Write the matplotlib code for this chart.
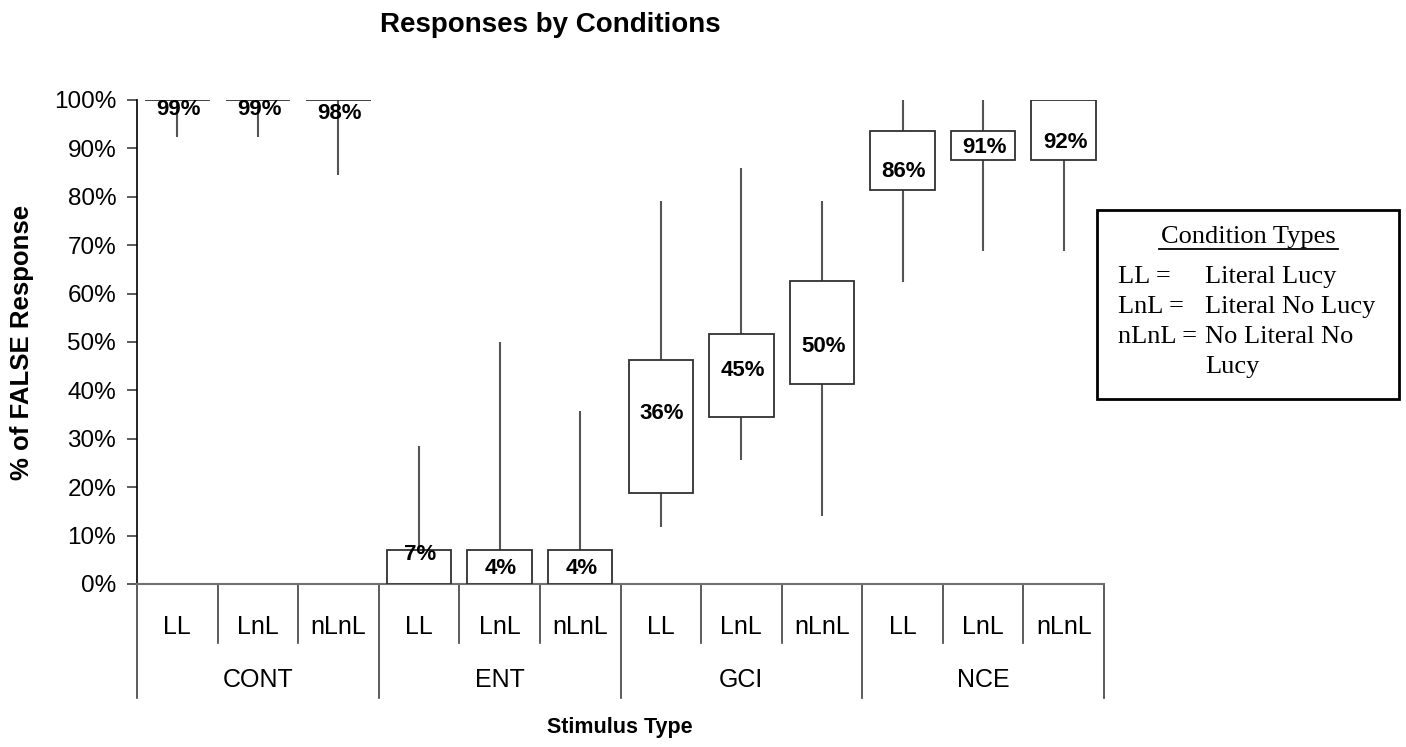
import numpy as np
import matplotlib.pyplot as plt
from matplotlib.lines import Line2D
from matplotlib.patches import Rectangle

plt.rcParams['font.family'] = ['Liberation Sans', 'DejaVu Sans']

# stimulus groups and condition types
groups = ['CONT', 'ENT', 'GCI', 'NCE']
conds = ['LL', 'LnL', 'nLnL']

# values in %
whisk_hi = [100, 100, 100, 28.5, 50.0, 35.7, 79.2, 86.0, 79.2, 100, 100, 100]
whisk_lo = [92.4, 92.4, 84.5, 0, 0, 0, 11.8, 25.6, 14.0, 62.5, 68.7, 68.7]
box_hi = [100, 100, 100, 7.0, 7.0, 7.0, 46.3, 51.7, 62.6, 93.5, 93.5, 100]
box_lo = [100, 100, 100, 0, 0, 0, 18.8, 34.6, 41.3, 81.4, 87.7, 87.7]
means = [99, 99, 98, 7, 4, 4, 36, 45, 50, 86, 91, 92]

W, H = 1406, 747
fig = plt.figure(figsize=(W / 100, H / 100), dpi=100)
ax = fig.add_axes([137 / W, 1 - 584 / H, (1104 - 137) / W, (584 - 100) / H])

n = len(means)
x = np.arange(n)
lc = '#404040'

ax.vlines(x, np.array(whisk_lo) / 100, np.array(whisk_hi) / 100,
          color='#555555', linewidth=1.5, zorder=2)
ax.bar(x, (np.array(box_hi) - np.array(box_lo)) / 100, bottom=np.array(box_lo) / 100,
       width=0.8, facecolor='white', edgecolor='#303030', linewidth=1.3, zorder=3)

for xi, m in zip(x, means):
    ax.annotate(f'{m}%', (xi, m / 100), xytext=(1, -3), textcoords='offset points',
                ha='center', va='center', fontsize=16, fontweight='bold', zorder=4)

ax.set_xlim(-0.5, n - 0.5)
ax.set_ylim(0, 1)
ax.set_yticks(np.linspace(0, 1, 11))
ax.set_yticklabels([f'{int(v)}%' for v in np.arange(0, 101, 10)], fontsize=17.5)
ax.tick_params(axis='y', direction='out', length=7, width=1.2, pad=8, color=lc)
ax.set_xticks([])
for s in ['top', 'right']:
    ax.spines[s].set_visible(False)
ax.spines['left'].set_color('black')
ax.spines['left'].set_linewidth(1.2)
ax.spines['bottom'].set_color('#707070')
ax.spines['bottom'].set_linewidth(1.5)

# multi-level category axis
tr = ax.get_xaxis_transform()
sub_bot = -(643 - 584) / 484
grp_bot = -(698 - 584) / 484
for i in range(n + 1):
    yb = grp_bot if i % 3 == 0 else sub_bot
    ax.add_line(Line2D([i - 0.5, i - 0.5], [0, yb], transform=tr, color=lc,
                       linewidth=1.2, clip_on=False))
for i in range(n):
    ax.text(i, -(627 - 584) / 484, conds[i % 3], transform=tr, ha='center',
            va='center', fontsize=18)
for g, name in enumerate(groups):
    ax.text(3 * g + 1, -(680 - 584) / 484, name, transform=tr, ha='center',
            va='center', fontsize=18)

fig.text(550 / W, 1 - 25 / H, 'Responses by Conditions', ha='center', va='center',
         fontsize=20, fontweight='bold')
fig.text(620 / W, 1 - 728 / H, 'Stimulus Type', ha='center', va='center',
         fontsize=15.5, fontweight='bold')
fig.text(22 / W, 1 - 342 / H, '% of FALSE Response', ha='center', va='center',
         rotation=90, fontsize=18.5, fontweight='bold')

# condition types box
fig.add_artist(Rectangle((1097 / W, 1 - 399 / H), 302 / W, 189 / H, transform=fig.transFigure,
                         facecolor='white', edgecolor='black', linewidth=2))
serif = ['Liberation Serif', 'DejaVu Serif']
fig.text(1248 / W, 1 - 237 / H, 'Condition Types', ha='center', va='center',
         fontsize=19, family=serif)
fig.add_artist(Line2D([1159 / W, 1338 / W], [1 - 249 / H, 1 - 249 / H],
                      transform=fig.transFigure, color='black', linewidth=1.3))
rows = [('LL =', 'Literal Lucy'), ('LnL =', 'Literal No Lucy'),
        ('nLnL =', 'No Literal No'), ('', 'Lucy')]
for k, (a, b) in enumerate(rows):
    yy = 1 - (277 + k * 30) / H
    fig.text(1118 / W, yy, a, ha='left', va='center', fontsize=19, family=serif)
    fig.text(1205 / W, yy, b, ha='left', va='center', fontsize=19, family=serif)

fig.savefig('out.png', dpi=100)
